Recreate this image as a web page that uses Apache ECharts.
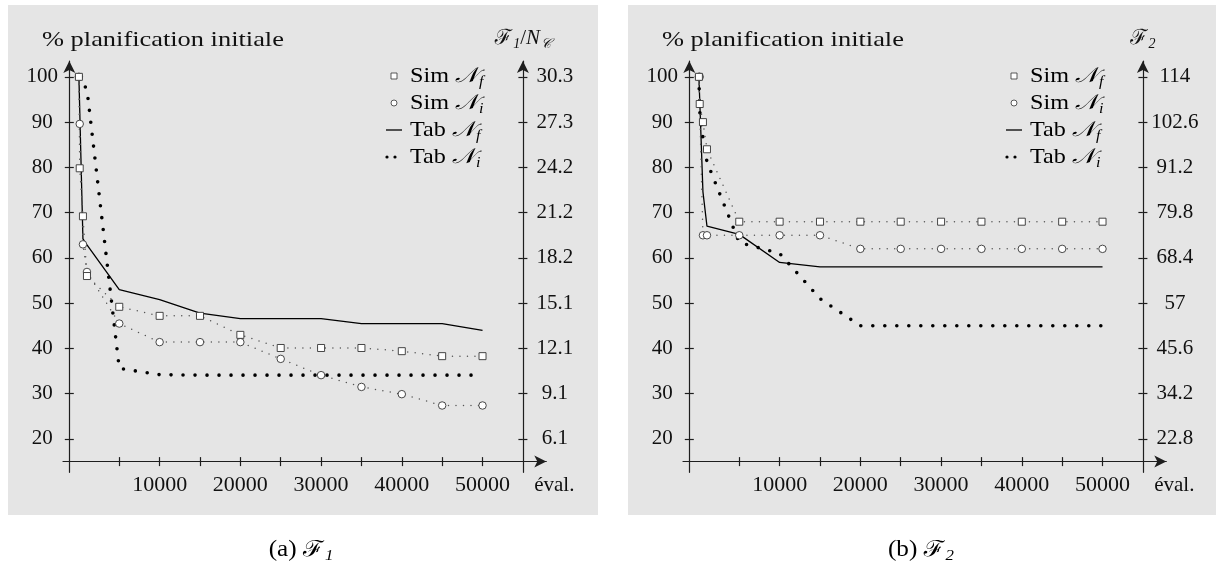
<!DOCTYPE html>
<html>
<head>
<meta charset="utf-8">
<title>Évolution de la planification</title>
<script src="https://cdn.jsdelivr.net/npm/echarts@6.0.0/dist/echarts.min.js"></script>
<style>
html, body { margin: 0; padding: 0; background: #ffffff; }
#chart { width: 1216px; height: 577px; }
</style>
</head>
<body>
<div id="chart"></div>
<script>
// Evaluation counts at which the simulated annealing runs were sampled
const simEvals = [0, 100, 500, 1000, 5000, 10000, 15000, 20000, 25000, 30000, 35000, 40000, 45000, 50000];

// (a) F1 : % of the initial planning
const f1SimNf = [100, 79.8, 69.2, 56.0, 49.2, 47.2, 47.2, 43.0, 40.1, 40.1, 40.1, 39.4, 38.3, 38.3];
const f1SimNi = [100, 89.6, 63.0, 56.9, 45.5, 41.4, 41.4, 41.4, 37.7, 34.1, 31.5, 29.9, 27.4, 27.4];
const f1TabNfEvals = [0, 500, 1000, 5000, 10000, 15000, 20000, 25000, 30000, 35000, 40000, 45000, 50000];
const f1TabNf = [100, 64.2, 62.9, 53.0, 50.8, 47.8, 46.6, 46.6, 46.6, 45.5, 45.5, 45.5, 44.0];
const f1TabNiEvals = [0, 1000, 5000, 10000, 15000, 20000, 25000, 30000, 35000, 40000, 45000, 50000];
const f1TabNi = [100, 97.2, 35.6, 34.2, 34.1, 34.1, 34.1, 34.1, 34.1, 34.1, 34.1, 34.1];
const f1RightLabels = ['6.1', '9.1', '12.1', '15.1', '18.2', '21.2', '24.2', '27.3', '30.3'];

// (b) F2 : % of the initial planning
const f2SimNf = [100, 94.0, 90.0, 84.0, 68.0, 68.0, 68.0, 68.0, 68.0, 68.0, 68.0, 68.0, 68.0, 68.0];
const f2SimNi = [100, 100, 65.0, 65.0, 65.0, 65.0, 65.0, 62.0, 62.0, 62.0, 62.0, 62.0, 62.0, 62.0];
const f2TabNfEvals = [0, 500, 1000, 5000, 10000, 15000, 20000, 25000, 30000, 35000, 40000, 45000, 50000];
const f2TabNf = [100, 74.6, 67.0, 65.2, 59.0, 58.0, 58.0, 58.0, 58.0, 58.0, 58.0, 58.0, 58.0];
const f2TabNiEvals = [0, 100, 500, 1000, 5000, 10000, 15000, 20000, 25000, 30000, 35000, 40000, 45000, 50000];
const f2TabNi = [100, 92.4, 86.5, 81.2, 63.4, 61.0, 51.0, 45.0, 45.0, 45.0, 45.0, 45.0, 45.0, 45.0];
const f2RightLabels = ['22.8', '34.2', '45.6', '57', '68.4', '79.8', '91.2', '102.6', '114'];

// Axis ticks
const xTicks = [5000, 10000, 15000, 20000, 25000, 30000, 35000, 40000, 45000, 50000];
const xLabels = [10000, 20000, 30000, 40000, 50000];
const yTicks = [20, 30, 40, 50, 60, 70, 80, 90, 100];

// Legend entries
const legendNames = ['Sim', 'Sim', 'Tab', 'Tab'];
const legendSubs = ['f', 'i', 'f', 'i'];

const FONT = "Liberation Serif, Tinos, Times New Roman, Noto Serif, DejaVu Serif, serif";
const INK = '#111111';
const AXIS = '#1e1e1e';
const X_MIN = -1970, X_MAX = 57900;
const Y_MIN = 12.64, Y_MAX = 103.5;

const rich = {
  t: { fontFamily: FONT, fontSize: 21, lineHeight: 26, color: INK },
  c: { fontFamily: FONT, fontSize: 21, lineHeight: 26, color: INK, fontStyle: 'italic' },
  s: { fontFamily: FONT, fontSize: 14, lineHeight: 14, padding: [12, 0, 0, 1], color: INK, fontStyle: 'italic' }
};

const panels = [
  {
    dx: 0,
    simNf: f1SimNf, simNi: f1SimNi,
    tabNf: [f1TabNfEvals, f1TabNf], tabNi: [f1TabNiEvals, f1TabNi],
    rightLabels: f1RightLabels,
    rightName: '{c|ℱ}{s|1}{t|/}{c|N}{s|𝒞}',
    caption: '{t|(a) }{c|ℱ}{s|1}'
  },
  {
    dx: 620,
    simNf: f2SimNf, simNi: f2SimNi,
    tabNf: [f2TabNfEvals, f2TabNf], tabNi: [f2TabNiEvals, f2TabNi],
    rightLabels: f2RightLabels,
    rightName: '{c|ℱ}{s|2}',
    caption: '{t|(b) }{c|ℱ}{s|2}'
  }
];

const zip = (xs, ys) => xs.map((x, i) => [x, ys[i]]);
const labelStyle = { fontFamily: FONT, fontSize: 21, color: INK };
const lineStyleAxis = { color: AXIS, width: 1.2 };

// plot area: 63..546.3 px horizontally, value 15 sits 10.7 px above the grid bottom
const GRID_W = 483.3;
const RIGHT_OFFSET = -(GRID_W - 459.9);

const grids = [], xAxes = [], yAxes = [], series = [], graphic = [];

panels.forEach((p, k) => {
  grids.push({ left: 63 + p.dx, top: 61, width: GRID_W, height: 411.3 });

  // horizontal axis: outer ticks + labels, then a twin carrying the inner half of the ticks
  xAxes.push({
    gridIndex: k, type: 'value', min: X_MIN, max: X_MAX, position: 'bottom', offset: -10.7,
    axisLine: { onZero: false, lineStyle: lineStyleAxis, symbol: ['none', 'arrow'], symbolSize: [9, 12] },
    axisTick: { customValues: xTicks, length: 4.5, lineStyle: lineStyleAxis },
    axisLabel: { customValues: xLabels, formatter: v => String(v), margin: 13, ...labelStyle, fontSize: 22 },
    splitLine: { show: false },
    name: 'éval.', nameLocation: 'end', nameGap: 8,
    nameTextStyle: { ...labelStyle, align: 'center', verticalAlign: 'top', padding: [13, 0, 0, 0] }
  });
  xAxes.push({
    gridIndex: k, type: 'value', min: X_MIN, max: X_MAX, position: 'bottom', offset: -10.7,
    axisLine: { show: false, onZero: false },
    axisTick: { customValues: xTicks, length: 4.5, inside: true, lineStyle: lineStyleAxis },
    axisLabel: { show: false }, splitLine: { show: false }
  });

  // left percentage axis
  yAxes.push({
    gridIndex: k, type: 'value', min: Y_MIN, max: Y_MAX, position: 'left', offset: -6.3,
    axisLine: { onZero: false, lineStyle: lineStyleAxis, symbol: ['none', 'arrow'], symbolSize: [9, 12] },
    axisTick: { customValues: yTicks, length: 4.5, lineStyle: lineStyleAxis },
    axisLabel: { customValues: yTicks, formatter: v => String(v), margin: 27, align: 'center', ...labelStyle },
    splitLine: { show: false }
  });
  yAxes.push({
    gridIndex: k, type: 'value', min: Y_MIN, max: Y_MAX, position: 'left', offset: -6.3,
    axisLine: { show: false, onZero: false },
    axisTick: { customValues: yTicks, length: 4.5, inside: true, lineStyle: lineStyleAxis },
    axisLabel: { show: false }, splitLine: { show: false }
  });

  // right objective axis, placed at 55000 evaluations
  yAxes.push({
    gridIndex: k, type: 'value', min: Y_MIN, max: Y_MAX, position: 'right', offset: RIGHT_OFFSET,
    axisLine: { onZero: false, lineStyle: lineStyleAxis, symbol: ['none', 'arrow'], symbolSize: [9, 12] },
    axisTick: { customValues: yTicks, length: 4.5, lineStyle: lineStyleAxis },
    axisLabel: {
      customValues: yTicks, formatter: v => p.rightLabels[yTicks.indexOf(v)],
      margin: 32, align: 'center', ...labelStyle
    },
    splitLine: { show: false },
    name: p.rightName, nameLocation: 'end', nameGap: 10,
    nameTextStyle: { rich: rich, align: 'center' }
  });
  yAxes.push({
    gridIndex: k, type: 'value', min: Y_MIN, max: Y_MAX, position: 'right', offset: RIGHT_OFFSET,
    axisLine: { show: false, onZero: false },
    axisTick: { customValues: yTicks, length: 4.5, inside: true, lineStyle: lineStyleAxis },
    axisLabel: { show: false }, splitLine: { show: false }
  });

  const common = {
    type: 'line', xAxisIndex: 2 * k, yAxisIndex: 4 * k, silent: true,
    animation: false, emphasis: { disabled: true }
  };
  series.push({
    ...common, name: 'Tab Nf', data: zip(p.tabNf[0], p.tabNf[1]), symbol: 'none',
    lineStyle: { color: '#000', width: 1.3 }
  });
  series.push({
    ...common, name: 'Tab Ni', data: zip(p.tabNi[0], p.tabNi[1]), symbol: 'none',
    lineStyle: { color: '#000', width: 3.6, type: [0, 12], cap: 'round' }
  });
  series.push({
    ...common, name: 'Sim Ni', data: zip(simEvals, p.simNi), symbol: 'circle', symbolSize: 7.5,
    itemStyle: { color: '#ffffff', borderColor: '#333', borderWidth: 0.9 },
    lineStyle: { color: '#555', width: 1.5, type: [0, 7.5], cap: 'round' }
  });
  series.push({
    ...common, name: 'Sim Nf', data: zip(simEvals, p.simNf), symbol: 'rect', symbolSize: 7,
    itemStyle: { color: '#ffffff', borderColor: '#333', borderWidth: 0.9 },
    lineStyle: { color: '#555', width: 1.5, type: [0, 7.5], cap: 'round' }
  });

  // panel background
  graphic.push({
    type: 'rect', silent: true, z: -10,
    shape: { x: 8 + p.dx, y: 5, width: 590, height: 510 },
    style: { fill: '#e5e5e5' }
  });
  // left axis caption (set a little wider, as in the typeset original)
  graphic.push({
    type: 'text', silent: true,
    x: 42 + p.dx, y: 40, scaleX: 1.2,
    style: { text: '% planification initiale', fontFamily: FONT, fontSize: 22, fill: INK, verticalAlign: 'middle' }
  });
  // legend keys
  const lx = 394 + p.dx;
  graphic.push({ type: 'rect', silent: true, shape: { x: lx - 3, y: 73, width: 6, height: 6 },
    style: { fill: '#fff', stroke: '#333', lineWidth: 0.8 } });
  graphic.push({ type: 'circle', silent: true, shape: { cx: lx, cy: 103, r: 3 },
    style: { fill: '#fff', stroke: '#333', lineWidth: 0.8 } });
  graphic.push({ type: 'line', silent: true, shape: { x1: lx - 8, y1: 130, x2: lx + 8, y2: 130 },
    style: { stroke: '#000', lineWidth: 1.3 } });
  graphic.push({ type: 'circle', silent: true, shape: { cx: lx - 7, cy: 157, r: 1.6 }, style: { fill: '#000' } });
  graphic.push({ type: 'circle', silent: true, shape: { cx: lx + 1, cy: 157, r: 1.6 }, style: { fill: '#000' } });
  legendNames.forEach((nm, i) => {
    graphic.push({
      type: 'text', silent: true, x: 410 + p.dx, y: 76 + 27 * i, scaleX: 1.15,
      style: { text: '{t|' + nm + ' }{c|𝒩}{s|' + legendSubs[i] + '}', rich: rich, verticalAlign: 'middle' }
    });
  });
  // sub-figure caption
  graphic.push({
    type: 'text', silent: true, x: 301 + p.dx, y: 550, scaleX: 1.2, scaleY: 1.05,
    style: { text: p.caption, rich: rich, align: 'center', verticalAlign: 'middle' }
  });
});

const chart = echarts.init(document.getElementById('chart'), null, { renderer: 'canvas' });
chart.setOption({
  animation: false,
  backgroundColor: '#ffffff',
  grid: grids,
  xAxis: xAxes,
  yAxis: yAxes,
  series: series,
  graphic: graphic
});
</script>
</body>
</html>
